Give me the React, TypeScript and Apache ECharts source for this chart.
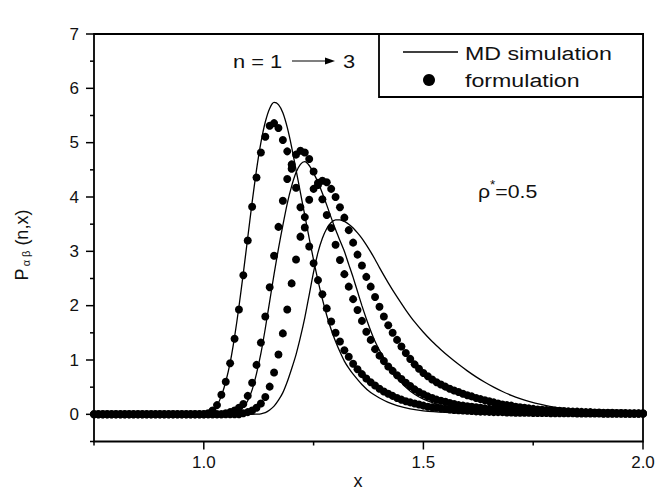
import React, { useEffect, useRef } from "react";
import * as echarts from "echarts";

// formulation values sampled every 0.01 from x = 0.75 to x = 2.00
const X_START = 0.75;
const X_STEP = 0.01;

const formulationN1 = [
  0, 0, 0, 0, 0, 0, 0, 0, 0, 0, 0, 0, 0, 0, 0, 0, 0, 0, 0, 0, 0, 0, 0, 0, 0, 0,
  0.02, 0.07, 0.17, 0.36, 0.6, 0.94, 1.39, 1.93, 2.56, 3.2,
  3.82, 4.36, 4.82, 5.11, 5.31, 5.36, 5.27, 5.05, 4.84, 4.52,
  4.17, 3.81, 3.44, 3.09, 2.78, 2.47, 2.21, 1.95, 1.71, 1.5,
  1.34, 1.18, 1.06, 0.93, 0.83, 0.74, 0.66, 0.59, 0.53, 0.47,
  0.42, 0.38, 0.34, 0.3, 0.27, 0.24, 0.22, 0.2, 0.18, 0.16,
  0.14, 0.13, 0.12, 0.11, 0.1, 0.09, 0.08, 0.075, 0.07, 0.065,
  0.06, 0.055, 0.05, 0.05, 0.045, 0.04, 0.04, 0.04, 0.035, 0.035,
  0.03, 0.03, 0.03, 0.03, 0.025, 0.025, 0.025, 0.025, 0.02, 0.02,
  0.02, 0.02, 0.02, 0.02, 0.015, 0.015, 0.015, 0.015, 0.015, 0.015,
  0.01, 0.01, 0.01, 0.01, 0.01, 0.01, 0.01, 0.01, 0.01, 0.01,
];

const formulationN2 = [
  0, 0, 0, 0, 0, 0, 0, 0, 0, 0, 0, 0, 0, 0, 0, 0, 0, 0, 0, 0, 0, 0, 0, 0, 0, 0, 0, 0, 0, 0,
  0.02, 0.04, 0.07, 0.12, 0.19, 0.34,
  0.58, 0.91, 1.32, 1.8, 2.34, 2.92, 3.45, 3.93, 4.33, 4.6,
  4.78, 4.85, 4.82, 4.7, 4.47, 4.22, 3.96, 3.67, 3.43, 3.12,
  2.84, 2.58, 2.35, 2.12, 1.92, 1.72, 1.52, 1.37, 1.2, 1.08,
  0.98, 0.88, 0.8, 0.72, 0.65, 0.58, 0.52, 0.46, 0.41, 0.37,
  0.33, 0.3, 0.27, 0.25, 0.23, 0.21, 0.19, 0.17, 0.16, 0.15,
  0.14, 0.13, 0.12, 0.11, 0.1, 0.095, 0.09, 0.085, 0.08, 0.075,
  0.07, 0.065, 0.06, 0.06, 0.055, 0.05, 0.05, 0.045, 0.045, 0.04,
  0.04, 0.035, 0.035, 0.03, 0.03, 0.03, 0.03, 0.025, 0.025, 0.025,
  0.02, 0.02, 0.02, 0.02, 0.02, 0.015, 0.015, 0.015, 0.015, 0.015,
];

const formulationN3 = [
  0, 0, 0, 0, 0, 0, 0, 0, 0, 0, 0, 0, 0, 0, 0, 0, 0, 0, 0, 0, 0, 0, 0, 0, 0, 0, 0, 0, 0, 0, 0, 0, 0, 0,
  0.02, 0.04,
  0.07, 0.12, 0.2, 0.32, 0.51, 0.77, 1.1, 1.49, 1.93, 2.41,
  2.85, 3.27, 3.63, 3.95, 4.15, 4.26, 4.3, 4.27, 4.15, 4.0,
  3.81, 3.62, 3.39, 3.16, 2.94, 2.74, 2.53, 2.35, 2.16, 1.98,
  1.8, 1.64, 1.5, 1.37, 1.25, 1.13, 1.02, 0.92, 0.84, 0.76,
  0.7, 0.64, 0.59, 0.55, 0.51, 0.47, 0.44, 0.41, 0.38, 0.35,
  0.33, 0.3, 0.28, 0.26, 0.24, 0.22, 0.2, 0.18, 0.17, 0.16,
  0.14, 0.13, 0.12, 0.11, 0.1, 0.09, 0.085, 0.08, 0.075, 0.07,
  0.065, 0.06, 0.055, 0.05, 0.05, 0.045, 0.04, 0.04, 0.035, 0.035,
  0.03, 0.03, 0.03, 0.025, 0.025, 0.025, 0.02, 0.02, 0.02, 0.02,
];

// MD simulation curves as [x, y]
const mdN1: [number, number][] = [
  [0.75, 0], [1.0, 0], [1.01, 0.01], [1.02, 0.06], [1.03, 0.16], [1.04, 0.34], [1.05, 0.6],
  [1.06, 0.95], [1.07, 1.42], [1.08, 1.98], [1.09, 2.6], [1.1, 3.25], [1.11, 3.9], [1.12, 4.5],
  [1.13, 5.0], [1.14, 5.38], [1.15, 5.63], [1.16, 5.74], [1.17, 5.7], [1.18, 5.55], [1.19, 5.28],
  [1.2, 4.92], [1.21, 4.5], [1.22, 4.08], [1.23, 3.66], [1.24, 3.24], [1.25, 2.84], [1.26, 2.46],
  [1.27, 2.12], [1.28, 1.82], [1.29, 1.56], [1.3, 1.34], [1.31, 1.15], [1.32, 0.98], [1.33, 0.85],
  [1.34, 0.74], [1.36, 0.55], [1.38, 0.4], [1.4, 0.3], [1.42, 0.22], [1.44, 0.16], [1.47, 0.1],
  [1.5, 0.065], [1.55, 0.035], [1.6, 0.02], [1.7, 0.01], [1.8, 0.005], [2.0, 0],
];

const mdN2: [number, number][] = [
  [0.75, 0], [1.05, 0], [1.06, 0.01], [1.07, 0.03], [1.08, 0.07], [1.09, 0.13], [1.1, 0.25],
  [1.11, 0.45], [1.12, 0.75], [1.13, 1.12], [1.14, 1.58], [1.15, 2.08], [1.16, 2.58], [1.17, 3.05],
  [1.18, 3.48], [1.19, 3.88], [1.2, 4.2], [1.21, 4.45], [1.22, 4.6], [1.23, 4.65], [1.24, 4.58],
  [1.25, 4.44], [1.26, 4.27], [1.27, 4.07], [1.28, 3.85], [1.29, 3.62], [1.3, 3.4], [1.31, 3.2],
  [1.32, 3.0], [1.33, 2.76], [1.34, 2.52], [1.35, 2.26], [1.36, 2.0], [1.37, 1.76], [1.38, 1.54],
  [1.39, 1.34], [1.4, 1.18], [1.41, 1.04], [1.42, 0.9], [1.43, 0.78], [1.44, 0.67], [1.46, 0.5],
  [1.48, 0.37], [1.5, 0.28], [1.53, 0.19], [1.56, 0.13], [1.6, 0.08], [1.65, 0.05], [1.7, 0.03],
  [1.8, 0.015], [2.0, 0.01],
];

const mdN3: [number, number][] = [
  [0.75, 0], [1.1, 0], [1.12, 0.005], [1.13, 0.01], [1.14, 0.03], [1.15, 0.08], [1.16, 0.15],
  [1.17, 0.26], [1.18, 0.4], [1.19, 0.6], [1.2, 0.84], [1.21, 1.1], [1.22, 1.42], [1.23, 1.78],
  [1.24, 2.2], [1.25, 2.62], [1.26, 2.98], [1.27, 3.24], [1.28, 3.42], [1.29, 3.53], [1.3, 3.58],
  [1.31, 3.58], [1.32, 3.55], [1.33, 3.5], [1.34, 3.43], [1.35, 3.34], [1.36, 3.24], [1.37, 3.12],
  [1.38, 2.99], [1.39, 2.85], [1.4, 2.7], [1.42, 2.42], [1.44, 2.16], [1.46, 1.92], [1.48, 1.7],
  [1.5, 1.51], [1.52, 1.34], [1.54, 1.19], [1.56, 1.05], [1.58, 0.92], [1.6, 0.8], [1.62, 0.69],
  [1.64, 0.59], [1.66, 0.5], [1.68, 0.42], [1.7, 0.35], [1.72, 0.29], [1.74, 0.24], [1.77, 0.18],
  [1.8, 0.13], [1.84, 0.09], [1.88, 0.06], [1.94, 0.035], [2.0, 0.02],
];

const xMajorTicks = [1.0, 1.5, 2.0];
const xMinorTicks = [0.75, 1.25, 1.75];
const yMajorTicks = [0, 1, 2, 3, 4, 5, 6, 7];
const yMinorTicks = [-0.5, 0.5, 1.5, 2.5, 3.5, 4.5, 5.5, 6.5];
const legendLabels = ["MD simulation", "formulation"];

function toPoints(values: number[]): [number, number][] {
  return values.map((v, i) => [Number((X_START + i * X_STEP).toFixed(2)), v]);
}

const FONT = "'Liberation Sans', Arial, Helvetica, sans-serif";
const INK = "#111";

export default function App() {
  const ref = useRef<HTMLDivElement>(null);

  useEffect(() => {
    document.body.style.margin = "0";
    const chart = echarts.init(ref.current!, null, { renderer: "svg" });

    const isMajorX = (v: number) => xMajorTicks.some((t) => Math.abs(t - v) < 1e-6);
    const isMajorY = (v: number) => yMajorTicks.some((t) => Math.abs(t - v) < 1e-6);

    const scatterBase = {
      type: "scatter",
      symbol: "circle",
      symbolSize: 8,
      itemStyle: { color: "#000", opacity: 1 },
    };
    const lineBase = {
      type: "line",
      showSymbol: false,
      symbol: "none",
      smooth: 0.25,
      lineStyle: { color: "#000", width: 1.3 },
      z: 3,
    };

    const option = {
      animation: false,
      grid: {
        left: 94,
        top: 34,
        width: 549,
        height: 407.5,
        show: true,
        borderColor: "#000",
        borderWidth: 1.8,
        backgroundColor: "transparent",
      },
      xAxis: {
        type: "value",
        min: 0.75,
        max: 2,
        interval: 0.25,
        position: "bottom",
        axisLine: { show: false },
        axisTick: { show: false },
        axisLabel: {
          fontSize: 17,
          color: INK,
          fontFamily: FONT,
          margin: 12,
          formatter: (v: number) => (isMajorX(v) ? v.toFixed(1) : ""),
        },
        splitLine: { show: false },
      },
      yAxis: {
        type: "value",
        min: -0.5,
        max: 7,
        interval: 0.5,
        position: "left",
        axisLine: { show: false },
        axisTick: { show: false },
        axisLabel: {
          fontSize: 17,
          color: INK,
          fontFamily: FONT,
          margin: 15,
          formatter: (v: number) => (isMajorY(v) ? String(Math.round(v)) : ""),
        },
        splitLine: { show: false },
      },
      series: [
        { ...scatterBase, name: legendLabels[1] + " n=1", data: toPoints(formulationN1) },
        { ...scatterBase, name: legendLabels[1] + " n=2", data: toPoints(formulationN2) },
        { ...scatterBase, name: legendLabels[1] + " n=3", data: toPoints(formulationN3) },
        { ...lineBase, name: legendLabels[0] + " n=1", data: mdN1 },
        { ...lineBase, name: legendLabels[0] + " n=2", data: mdN2 },
        { ...lineBase, name: legendLabels[0] + " n=3", data: mdN3 },
      ],
    };

    chart.setOption(option as any);

    // axis ticks placed through the chart's own scales
    const px = (x: number, y: number) => chart.convertToPixel({ gridIndex: 0 }, [x, y]) as number[];
    const bottomY = px(0.75, -0.5)[1];
    const leftX = px(0.75, -0.5)[0];
    const tickStyle = { stroke: "#000", lineWidth: 1.5 };
    const tickEls: any[] = [];
    [...xMajorTicks, ...xMinorTicks].forEach((v) => {
      const x = px(v, -0.5)[0];
      const len = isMajorX(v) ? 8 : 4;
      tickEls.push({ type: "line", z: 50, silent: true, shape: { x1: x, y1: bottomY, x2: x, y2: bottomY + len }, style: tickStyle });
    });
    [...yMajorTicks, ...yMinorTicks].forEach((v) => {
      const y = px(0.75, v)[1];
      const len = isMajorY(v) ? 8 : 4;
      tickEls.push({ type: "line", z: 50, silent: true, shape: { x1: leftX - len, y1: y, x2: leftX, y2: y }, style: tickStyle });
    });

    const textEls: any[] = [
      {
        type: "rect",
        z: 100,
        shape: { x: 379, y: 34, width: 264, height: 63 },
        style: { fill: "#fff", stroke: "#000", lineWidth: 1.8 },
      },
      {
        type: "line",
        z: 101,
        shape: { x1: 403, y1: 52, x2: 458, y2: 52 },
        style: { stroke: "#000", lineWidth: 1.3 },
      },
      {
        type: "circle",
        z: 101,
        shape: { cx: 429, cy: 80, r: 6 },
        style: { fill: "#000" },
      },
      {
        type: "text",
        z: 101,
        x: 465,
        y: 53,
        scaleX: 1.22,
        style: { text: legendLabels[0], fontSize: 19, fontFamily: FONT, fill: INK, align: "left", verticalAlign: "middle" },
      },
      {
        type: "text",
        z: 101,
        x: 465,
        y: 80,
        scaleX: 1.22,
        style: { text: legendLabels[1], fontSize: 19, fontFamily: FONT, fill: INK, align: "left", verticalAlign: "middle" },
      },
      {
        type: "text",
        z: 101,
        x: 233,
        y: 61,
        scaleX: 1.15,
        style: { text: "n = 1", fontSize: 19, fontFamily: FONT, fill: INK, align: "left", verticalAlign: "middle" },
      },
      {
        type: "line",
        z: 101,
        shape: { x1: 292, y1: 61, x2: 328, y2: 61 },
        style: { stroke: "#000", lineWidth: 1.2 },
      },
      {
        type: "polygon",
        z: 101,
        shape: { points: [[335, 61], [325, 57.5], [325, 64.5]] },
        style: { fill: "#000" },
      },
      {
        type: "text",
        z: 101,
        x: 343,
        y: 61,
        scaleX: 1.15,
        style: { text: "3", fontSize: 19, fontFamily: FONT, fill: INK, align: "left", verticalAlign: "middle" },
      },
      {
        type: "text",
        z: 101,
        x: 478,
        y: 190,
        scaleX: 1.12,
        style: {
          text: "{a|ρ}{b|*}{a|=0.5}",
          align: "left",
          verticalAlign: "middle",
          rich: {
            a: { fontSize: 19, lineHeight: 22, verticalAlign: "bottom", fontFamily: FONT, fill: INK },
            b: { fontSize: 12, lineHeight: 12, verticalAlign: "top", fontFamily: FONT, fill: INK },
          },
        },
      },
      {
        type: "text",
        z: 101,
        x: 358,
        y: 481,
        style: { text: "x", fontSize: 18, fontFamily: FONT, fill: INK, align: "center", verticalAlign: "middle" },
      },
      {
        type: "text",
        z: 101,
        x: 22,
        y: 245,
        rotation: Math.PI / 2,
        style: {
          text: "{p|P}{s|α β}{p| (n,x)}",
          align: "center",
          verticalAlign: "middle",
          rich: {
            p: { fontSize: 18, lineHeight: 18, verticalAlign: "top", fontFamily: FONT, fill: INK },
            s: { fontSize: 11, lineHeight: 11, padding: [10, 0, 0, 2], verticalAlign: "bottom", fontFamily: FONT, fill: INK },
          },
        },
      },
    ];

    chart.setOption({ graphic: [...tickEls, ...textEls] } as any);
    return () => chart.dispose();
  }, []);

  return <div ref={ref} style={{ width: 658, height: 492, background: "#fff" }} />;
}
